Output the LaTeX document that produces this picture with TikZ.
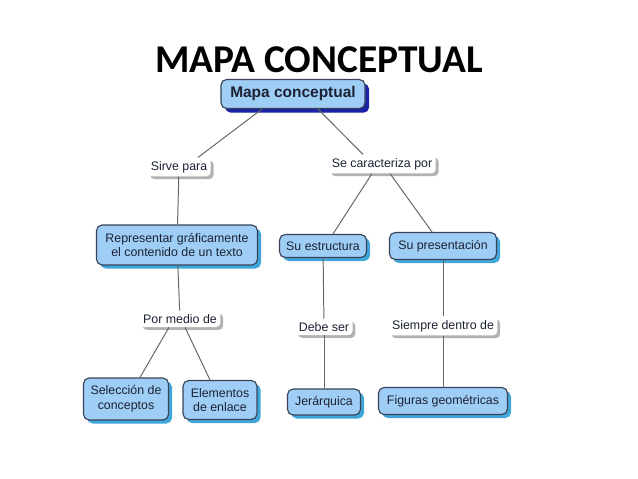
\documentclass[tikz,border=0pt]{standalone}
\usepackage{fontspec}
\setmainfont{Liberation Sans}
\newfontfamily\titlefont{Carlito}
\usetikzlibrary{shadows,calc}
\definecolor{cajaazul}{HTML}{9ECDF5}
\definecolor{borde}{HTML}{3A4258}
\definecolor{sombraazul}{HTML}{3FA6DA}
\definecolor{sombraraiz}{HTML}{1A22A8}
\definecolor{texto}{HTML}{1C2233}
\tikzset{
  concepto/.style={draw=borde, line width=0.8pt, fill=cajaazul, rounded corners=4pt,
    align=center, text=texto, font=\fontsize{8.8}{10.5}\selectfont, inner sep=3pt,
    drop shadow={shadow xshift=2.5pt, shadow yshift=-2.5pt, fill=sombraazul, opacity=1}},
  raiz/.style={concepto, font=\bfseries\fontsize{11}{13}\selectfont,
    drop shadow={shadow xshift=3pt, shadow yshift=-3pt, fill=sombraraiz, opacity=1}},
  enlace/.style={fill=white, rounded corners=3pt, text=texto, align=center,
    font=\fontsize{8.8}{10.5}\selectfont, inner sep=2.5pt,
    drop shadow={shadow xshift=2pt, shadow yshift=-2pt, fill=black!30, opacity=1}},
  conector/.style={draw=black!60, line width=0.7pt}
}
\begin{document}
\begin{tikzpicture}[x=0.025cm, y=-0.025cm]
\useasboundingbox (0,0) rectangle (638,479);
\node[font=\titlefont\bfseries\fontsize{28}{32}\selectfont] (titulo) at (319,60) {MAPA CONCEPTUAL};
\node[raiz, minimum width=144*0.025cm, minimum height=29*0.025cm] (mapa) at (293,94) {Mapa conceptual};
\node[enlace] (sirve) at (179,167) {Sirve para};
\node[enlace] (caracteriza) at (382,164) {Se caracteriza por};
\node[concepto, minimum width=161*0.025cm, minimum height=40*0.025cm] (representar) at (177,245) {Representar gráficamente\\el contenido de un texto};
\node[concepto, minimum width=87*0.025cm, minimum height=23*0.025cm] (estructura) at (323,246) {Su estructura};
\node[concepto, minimum width=107*0.025cm, minimum height=27*0.025cm] (presentacion) at (443,246) {Su presentación};
\node[enlace] (medio) at (180,319) {Por medio de};
\node[enlace] (debe) at (324,327) {Debe ser};
\node[enlace] (siempre) at (443,326) {Siempre dentro de};
\node[concepto, minimum width=85*0.025cm, minimum height=42*0.025cm] (seleccion) at (126,399) {Selección de\\conceptos};
\node[concepto, minimum width=74*0.025cm, minimum height=39*0.025cm] (elementos) at (220,400) {Elementos\\de enlace};
\node[concepto, minimum width=73*0.025cm, minimum height=26*0.025cm] (jerarquica) at (324,402) {Jerárquica};
\node[concepto, minimum width=129*0.025cm, minimum height=27*0.025cm] (figuras) at (443,401) {Figuras geométricas};
% lineas
\draw[conector] ($(mapa.south)+(-31,0)$) -- ($(sirve.north)+(19,0)$);
\draw[conector] ($(mapa.south)+(25,0)$) -- ($(caracteriza.north)+(-19,0)$);
\draw[conector] (sirve) -- (representar);
\draw[conector] (representar) -- (medio);
\draw[conector] ($(medio.south)+(-11,0)$) -- ($(seleccion.north)+(14,0)$);
\draw[conector] ($(medio.south)+(5,0)$) -- ($(elementos.north)+(-10,0)$);
\draw[conector] ($(caracteriza.south)+(-10,0)$) -- ($(estructura.north)+(10,0)$);
\draw[conector] ($(caracteriza.south)+(8,0)$) -- ($(presentacion.north)+(-11,0)$);
\draw[conector] (estructura) -- (debe);
\draw[conector] (debe) -- (jerarquica);
\draw[conector] (presentacion) -- (siempre);
\draw[conector] (siempre) -- (figuras);
\end{tikzpicture}
\end{document}
